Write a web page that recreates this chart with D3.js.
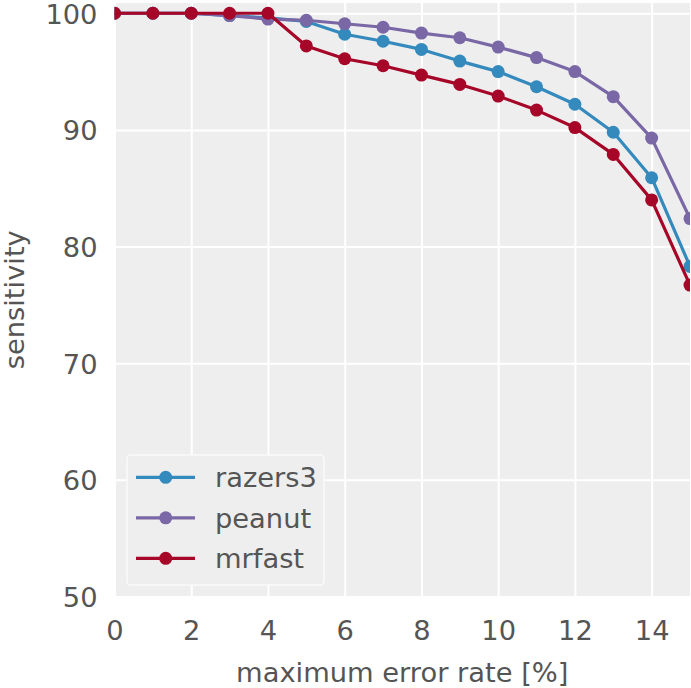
<!DOCTYPE html>
<html>
<head>
<meta charset="utf-8">
<script src="https://cdn.jsdelivr.net/npm/d3@7"></script>
<style>
  html, body { margin: 0; padding: 0; background: #ffffff; }
  svg { display: block; }
  text { font-family: "DejaVu Sans", sans-serif; }
</style>
</head>
<body>
<svg id="chart" width="691" height="688"></svg>
<script>
const errorRates = [0, 1, 2, 3, 4, 5, 6, 7, 8, 9, 10, 11, 12, 13, 14, 15];
const razers3 = [100, 100, 100, 99.8, 99.6, 99.3, 98.2, 97.6, 96.9, 95.9, 95.0, 93.7, 92.2, 89.8, 85.9, 78.3];
const peanut  = [100, 100, 100, 99.8, 99.5, 99.4, 99.1, 98.8, 98.3, 97.9, 97.1, 96.2, 95.0, 92.85, 89.3, 82.4];
const mrfast  = [100, 100, 100, 100, 100, 97.2, 96.1, 95.5, 94.7, 93.9, 92.9, 91.7, 90.2, 87.9, 84.0, 76.7];
const seriesNames = ["razers3", "peanut", "mrfast"];
const seriesColors = ["#348ABD", "#7A68A6", "#A60628"];
const xTicks = [0, 2, 4, 6, 8, 10, 12, 14];
const yTicks = [50, 60, 70, 80, 90, 100];

const series = [razers3, peanut, mrfast].map((vals, i) => ({
  name: seriesNames[i], color: seriesColors[i],
  pts: vals.map((v, j) => ({ x: errorRates[j], y: v }))
}));

const svg = d3.select("#chart");
const L = 114.5, R = 690, T = 3, B = 596.5;
const x = d3.scaleLinear().domain([0, 15]).range([L, R]);
const y = d3.scaleLinear().domain([50, 100.88]).range([B, T]);

const textColor = "#555555";
const fs = 27.3;

// background
svg.append("rect").attr("x", L).attr("y", T).attr("width", R - L).attr("height", B - T).attr("fill", "#eeeeee");

// gridlines via axes
const gx = svg.append("g").attr("transform", `translate(0,${B})`)
  .call(d3.axisBottom(x).tickValues(xTicks).tickSize(-(B - T)).tickFormat(""));
gx.select(".domain").remove();
gx.selectAll("line").attr("stroke", "#ffffff").attr("stroke-width", 2);

const gy = svg.append("g").attr("transform", `translate(${L},0)`)
  .call(d3.axisLeft(y).tickValues(yTicks).tickSize(-(R - L)).tickFormat(""));
gy.select(".domain").remove();
gy.selectAll("line").attr("stroke", "#ffffff").attr("stroke-width", 2);

// tick labels via axes
const lx = svg.append("g").attr("transform", `translate(0,${B})`)
  .call(d3.axisBottom(x).tickValues(xTicks).tickSize(0).tickPadding(0).tickFormat(d3.format("d")));
lx.select(".domain").remove();
lx.selectAll("text").attr("fill", textColor).attr("font-size", fs)
  .attr("font-family", "DejaVu Sans").attr("dy", null).attr("y", 43.5);

const ly = svg.append("g").attr("transform", `translate(${L},0)`)
  .call(d3.axisLeft(y).tickValues(yTicks).tickSize(0).tickPadding(17).tickFormat(d3.format("d")));
ly.select(".domain").remove();
ly.selectAll("text").attr("fill", textColor).attr("font-size", fs)
  .attr("font-family", "DejaVu Sans").attr("dy", "0.36em");

// clip
svg.append("clipPath").attr("id", "plotclip").append("rect")
  .attr("x", L).attr("y", T).attr("width", R - L).attr("height", B - T);

const plot = svg.append("g").attr("clip-path", "url(#plotclip)");
const line = d3.line().x(d => x(d.x)).y(d => y(d.y));

series.forEach(s => {
  const g = plot.append("g");
  g.append("path").datum(s.pts).attr("d", line)
    .attr("fill", "none").attr("stroke", s.color).attr("stroke-width", 3.2)
    .attr("stroke-linejoin", "round");
  g.selectAll("circle").data(s.pts).join("circle")
    .attr("cx", d => x(d.x)).attr("cy", d => y(d.y)).attr("r", 6.5)
    .attr("fill", s.color);
});

// axis titles
svg.append("text").attr("x", (L + R) / 2).attr("y", 682)
  .attr("text-anchor", "middle").attr("fill", textColor).attr("font-size", fs)
  .text("maximum error rate [%]");
svg.append("text").attr("transform", `translate(23.5,${(T + B) / 2}) rotate(-90)`)
  .attr("text-anchor", "middle").attr("fill", textColor).attr("font-size", fs)
  .text("sensitivity");

// legend
const lg = svg.append("g");
lg.append("rect").attr("x", 127).attr("y", 455).attr("width", 197).attr("height", 130)
  .attr("rx", 4).attr("fill", "#eeeeee").attr("stroke", "#fafafa").attr("stroke-width", 1.5);
series.forEach((s, i) => {
  const yy = 477.3 + i * 40.5;
  lg.append("line").attr("x1", 136).attr("x2", 195).attr("y1", yy).attr("y2", yy)
    .attr("stroke", s.color).attr("stroke-width", 3.2);
  lg.append("circle").attr("cx", 165.7).attr("cy", yy).attr("r", 6.5).attr("fill", s.color);
  lg.append("text").attr("x", 215).attr("y", yy).attr("dy", "0.36em")
    .attr("fill", textColor).attr("font-size", fs).text(s.name);
});
</script>
</body>
</html>
